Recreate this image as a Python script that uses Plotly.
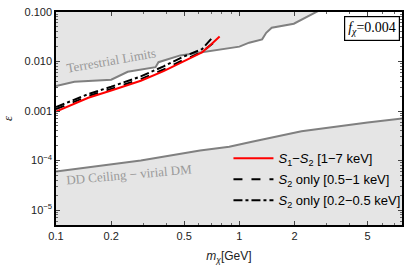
import plotly.graph_objects as go
import numpy as np

# Data
terr_x = [0.1, 0.126, 0.2, 0.246, 0.349, 0.362, 0.476, 0.61, 1.0, 1.13, 1.33, 1.40, 1.50, 1.98, 2.69, 4.0, 8.0]
terr_y = [0.0032, 0.0039, 0.0043, 0.0062, 0.0077, 0.0097, 0.0133, 0.0153, 0.020, 0.024, 0.028, 0.038, 0.048, 0.058, 0.105, 0.3, 0.5]

dd_x = [0.1, 0.29, 0.61, 0.88, 1.17, 2.18, 5.0, 8.0]
dd_y = [6.0e-5, 1.0e-4, 1.6e-4, 1.9e-4, 2.4e-4, 3.9e-4, 5.9e-4, 7.2e-4]

s1s2_x = [0.1, 0.15, 0.2, 0.29, 0.386, 0.494, 0.625, 0.7, 0.78]
s1s2_y = [0.00098, 0.00185, 0.0026, 0.0041, 0.0064, 0.0102, 0.0153, 0.022, 0.032]

s2a_x = [0.1, 0.15, 0.2, 0.29, 0.386, 0.494, 0.625, 0.77]
s2a_y = [0.00109, 0.0020, 0.0028, 0.0044, 0.0069, 0.0107, 0.0155, 0.029]

s2b_x = [0.1, 0.15, 0.2, 0.29, 0.386, 0.494, 0.625, 0.71]
s2b_y = [0.00120, 0.0022, 0.0031, 0.0050, 0.0080, 0.0125, 0.0178, 0.030]

names = ["<i>S</i><sub>1</sub>−<i>S</i><sub>2</sub> [1−7 keV]",
         "<i>S</i><sub>2</sub> only [0.5−1 keV]",
         "<i>S</i><sub>2</sub> only [0.2−0.5 keV]"]

x_ticks = [0.1, 0.2, 0.5, 1, 2, 5]
x_ticktext = ["0.1", "0.2", "0.5", "1", "2", "5"]
y_ticks = [1e-5, 1e-4, 1e-3, 1e-2, 1e-1]
y_ticktext = ["10<sup>−5</sup>", "10<sup>−4</sup>", "0.001", "0.010", "0.100"]

x_min, x_max = 0.1, 7.7
y_min, y_max = 5e-6, 0.1

fill_col = "#e5e5e5"
edge_col = "#808080"

fig = go.Figure()

# Terrestrial region (above boundary)
fig.add_trace(go.Scatter(x=terr_x + [terr_x[-1], terr_x[0]], y=terr_y + [10.0, 10.0],
                         fill="toself", fillcolor=fill_col, line=dict(width=0),
                         mode="lines", showlegend=False, hoverinfo="skip"))
fig.add_trace(go.Scatter(x=terr_x, y=terr_y, mode="lines",
                         line=dict(color=edge_col, width=2), showlegend=False))

# DD ceiling region (below boundary)
fig.add_trace(go.Scatter(x=dd_x + [dd_x[-1], dd_x[0]], y=dd_y + [1e-8, 1e-8],
                         fill="toself", fillcolor=fill_col, line=dict(width=0),
                         mode="lines", showlegend=False, hoverinfo="skip"))
fig.add_trace(go.Scatter(x=dd_x, y=dd_y, mode="lines",
                         line=dict(color=edge_col, width=2), showlegend=False))

fig.add_trace(go.Scatter(x=s2b_x, y=s2b_y, mode="lines", name=names[2], legendgroup="c", legendrank=3,
                         line=dict(color="black", width=2, dash="dashdot")))
fig.add_trace(go.Scatter(x=s2a_x, y=s2a_y, mode="lines", name=names[1], legendgroup="b", legendrank=2,
                         line=dict(color="black", width=2, dash="dash")))
fig.add_trace(go.Scatter(x=s1s2_x, y=s1s2_y, mode="lines", name=names[0], legendgroup="a", legendrank=1,
                         line=dict(color="red", width=2)))

minor_x = [v * m for v in [0.1, 1] for m in range(2, 10)]
minor_y = [10.0 ** e * m for e in range(-6, -1) for m in range(2, 10)]

axis_common = dict(type="log", showgrid=False, zeroline=False, showline=True, linecolor="black",
                   linewidth=1.5, mirror="allticks", ticks="inside", ticklen=4, tickcolor="#444",
                   tickfont=dict(family="Liberation Sans, Arial", size=11, color="#222"))

fig.update_xaxes(**axis_common, range=[np.log10(x_min), np.log10(x_max)], tickmode="array",
                 tickvals=x_ticks, ticktext=x_ticktext,
                 minor=dict(tickmode="array", tickvals=minor_x, ticks="inside", ticklen=2, tickcolor="#666"),
                 title=dict(text="<i>m</i><sub><i>χ</i></sub>[GeV]", standoff=11,
                            font=dict(family="Liberation Sans, Arial", size=12, color="#222")))
fig.update_yaxes(**axis_common, range=[np.log10(y_min), np.log10(y_max)], tickmode="array",
                 tickvals=y_ticks, ticktext=y_ticktext,
                 minor=dict(tickmode="array", tickvals=minor_y, ticks="inside", ticklen=2, tickcolor="#666"),
                 title=dict(text="<i>ε</i>", standoff=9,
                            font=dict(family="Liberation Serif, Times New Roman", size=13, color="#222")))

fig.add_annotation(x=np.log10(0.2), y=np.log10(0.0103), xref="x", yref="y", text="Terrestrial Limits",
                   showarrow=False, textangle=-10,
                   font=dict(family="Liberation Serif, Times New Roman", size=13, color="#999"))
fig.add_annotation(x=np.log10(0.25), y=np.log10(5.3e-5), xref="x", yref="y", text="DD Ceiling − virial DM",
                   showarrow=False, textangle=-5,
                   font=dict(family="Liberation Serif, Times New Roman", size=13, color="#999"))
fig.add_annotation(x=0.993, y=0.98, xref="paper", yref="paper", xanchor="right", yanchor="top",
                   text="<i>f</i><sub><i>χ</i></sub>=0.004", showarrow=False,
                   bordercolor="black", borderwidth=1.2, bgcolor="white", borderpad=3,
                   font=dict(family="Liberation Serif, Times New Roman", size=14, color="black"))

fig.update_layout(width=411, height=269, margin=dict(l=54, r=6, t=7, b=44),
                  paper_bgcolor="white", plot_bgcolor="white",
                  legend=dict(x=1.01, y=0.045, xanchor="right", yanchor="bottom", bgcolor="rgba(0,0,0,0)",
                              tracegroupgap=1, itemwidth=40,
                              font=dict(family="Liberation Sans, Arial", size=13, color="black")))

fig.write_html("out.html", config={"displayModeBar": False},
               post_script="document.body.style.margin='0';document.body.style.overflow='hidden';")
